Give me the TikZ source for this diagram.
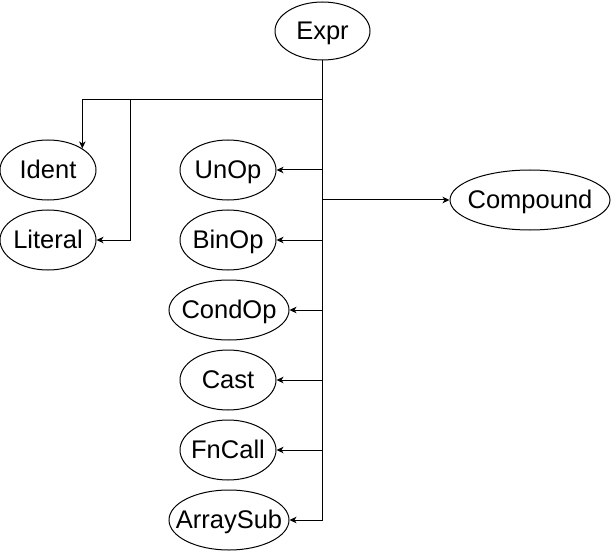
\documentclass[tikz,border=0pt]{standalone}
\usepackage{fontspec}
\setmainfont{Liberation Sans}
\usetikzlibrary{shapes.geometric,arrows.meta}
\newcommand{\elltext}[1]{\makebox[0pt]{\rule[-0.212em]{0pt}{1.117em}#1}}
\begin{document}
\begin{tikzpicture}[x=1bp,y=-1bp,
  ell/.style={ellipse,draw,line width=1bp,inner sep=0pt,minimum height=60bp,font=\fontsize{25.5bp}{30bp}\selectfont},
  conn/.style={line width=1bp},
  arr/.style={conn,-{Stealth[length=7bp,width=6.5bp,inset=2bp]}}]
\useasboundingbox (0,0) rectangle (611,551);
\node[ell,minimum width=95bp,minimum height=58bp] (Expr) at (322.5,31) {\elltext{Expr}};
\node[ell,minimum width=96bp] (Ident) at (48,170) {\elltext{Ident}};
\node[ell,minimum width=96bp] (Literal) at (48,240) {\elltext{Literal}};
\node[ell,minimum width=96bp] (UnOp) at (228,170) {\elltext{UnOp}};
\node[ell,minimum width=96bp] (BinOp) at (228,240) {\elltext{BinOp}};
\node[ell,minimum width=120bp] (CondOp) at (229,310) {\elltext{CondOp}};
\node[ell,minimum width=96bp] (Cast) at (228,380) {\elltext{Cast}};
\node[ell,minimum width=96bp] (FnCall) at (228,450) {\elltext{FnCall}};
\node[ell,minimum width=120bp] (ArraySub) at (229,520) {\elltext{ArraySub}};
\node[ell,minimum width=160bp] (Compound) at (530,200) {\elltext{Compound}};
\coordinate (j1) at (322.5,100);
\coordinate (j2) at (130,100);
\draw[conn] (Expr.south) -- (ArraySub.east -| Expr.south);
\draw[arr] (j1) -| (Ident.north east);
\draw[arr] (j2) |- (Literal.east);
\foreach \n in {UnOp,BinOp,CondOp,Cast,FnCall,ArraySub}
  \draw[arr] (\n.east -| Expr.south) -- (\n.east);
\draw[arr] (Compound.west -| Expr.south) -- (Compound.west);
\end{tikzpicture}
\end{document}
